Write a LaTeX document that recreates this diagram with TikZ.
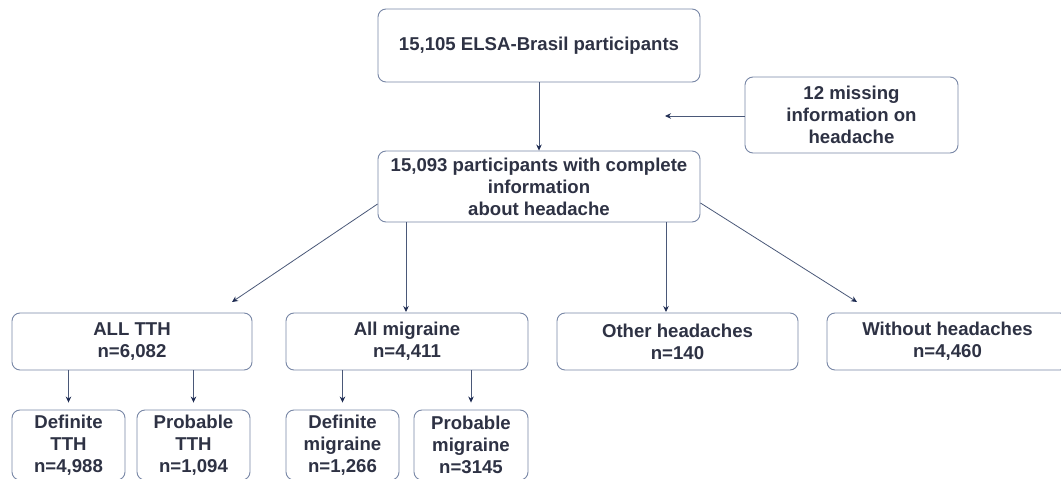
\documentclass[tikz,border=0pt]{standalone}
\usepackage{fontspec}
\setmainfont{Liberation Sans}
\usetikzlibrary{arrows.meta,calc}
\definecolor{boxline}{HTML}{7887A6}
\definecolor{txt}{HTML}{2E3244}
\definecolor{conn}{HTML}{4A5878}
\definecolor{tip}{HTML}{1F2C52}
\tikzset{
  box/.style={draw=boxline, line width=0.9pt, rounded corners=8pt, fill=white,
    text=txt, align=center, inner sep=0pt,
    font=\fontsize{18.6}{22}\selectfont\bfseries},
  arr/.style={draw=conn, line width=0.8pt, -{Stealth[length=6pt,width=5.5pt,color=tip]}}
}
\begin{document}
\begin{tikzpicture}[x=1pt,y=-1pt]
\useasboundingbox (0,0) rectangle (1061,479);
\node[box, minimum width=322pt, minimum height=73pt] (top) at (539,45.5) {15,105 ELSA-Brasil participants};
\node[box, minimum width=213pt, minimum height=76pt] (miss) at (851.5,115) {12 missing\\information on\\headache};
\node[box, minimum width=322pt, minimum height=71pt] (comp) at (539,186.5) {15,093 participants with complete\\information\\about headache};
\node[box, minimum width=240pt, minimum height=57pt] (tth) at (132,341.5) {ALL TTH\\n=6,082};
\node[box, minimum width=242pt, minimum height=57pt] (mig) at (407,341.5) {All migraine\\n=4,411};
\node[box, minimum width=241pt, minimum height=57pt] (oth) at (677.5,341.5) {Other headaches\\n=140};
\node[box, minimum width=241pt, minimum height=57pt] (wo) at (947.5,341.5) {Without headaches\\n=4,460};
\node[box, minimum width=113pt, minimum height=70pt] (dtth) at (68.5,445) {Definite\\TTH\\n=4,988};
\node[box, minimum width=113pt, minimum height=70pt] (ptth) at (193.5,445) {Probable\\TTH\\n=1,094};
\node[box, minimum width=113pt, minimum height=70pt] (dmig) at (342.5,445) {Definite\\migraine\\n=1,266};
\node[box, minimum width=114pt, minimum height=70pt] (pmig) at (471,445) {Probable\\migraine\\n=3145};
% free ends
\coordinate (misstip) at (665,116);
\coordinate (tthtip) at (232,302);
\coordinate (wotip) at (857,302);
\coordinate (othtip) at (666,312);
\coordinate (migtip) at (406,312);
\coordinate (lstart) at (377,204);
\coordinate (rstart) at (700,203);
% connectors
\draw[arr] (top.south) -- (comp.north);
\draw[arr] (miss.west |- misstip) -- (misstip);
\draw[arr] (comp.west |- lstart) -- (tthtip);
\draw[arr] (comp.east |- rstart) -- (wotip);
\draw[arr] (comp.south -| migtip) -- (migtip);
\draw[arr] (comp.south -| othtip) -- (othtip);
\draw[arr, shorten >=7pt] (tth.south -| dtth.north) -- (dtth.north);
\draw[arr, shorten >=7pt] (tth.south -| ptth.north) -- (ptth.north);
\draw[arr, shorten >=7pt] (mig.south -| dmig.north) -- (dmig.north);
\draw[arr, shorten >=7pt] (mig.south -| pmig.north) -- (pmig.north);
\end{tikzpicture}
\end{document}
